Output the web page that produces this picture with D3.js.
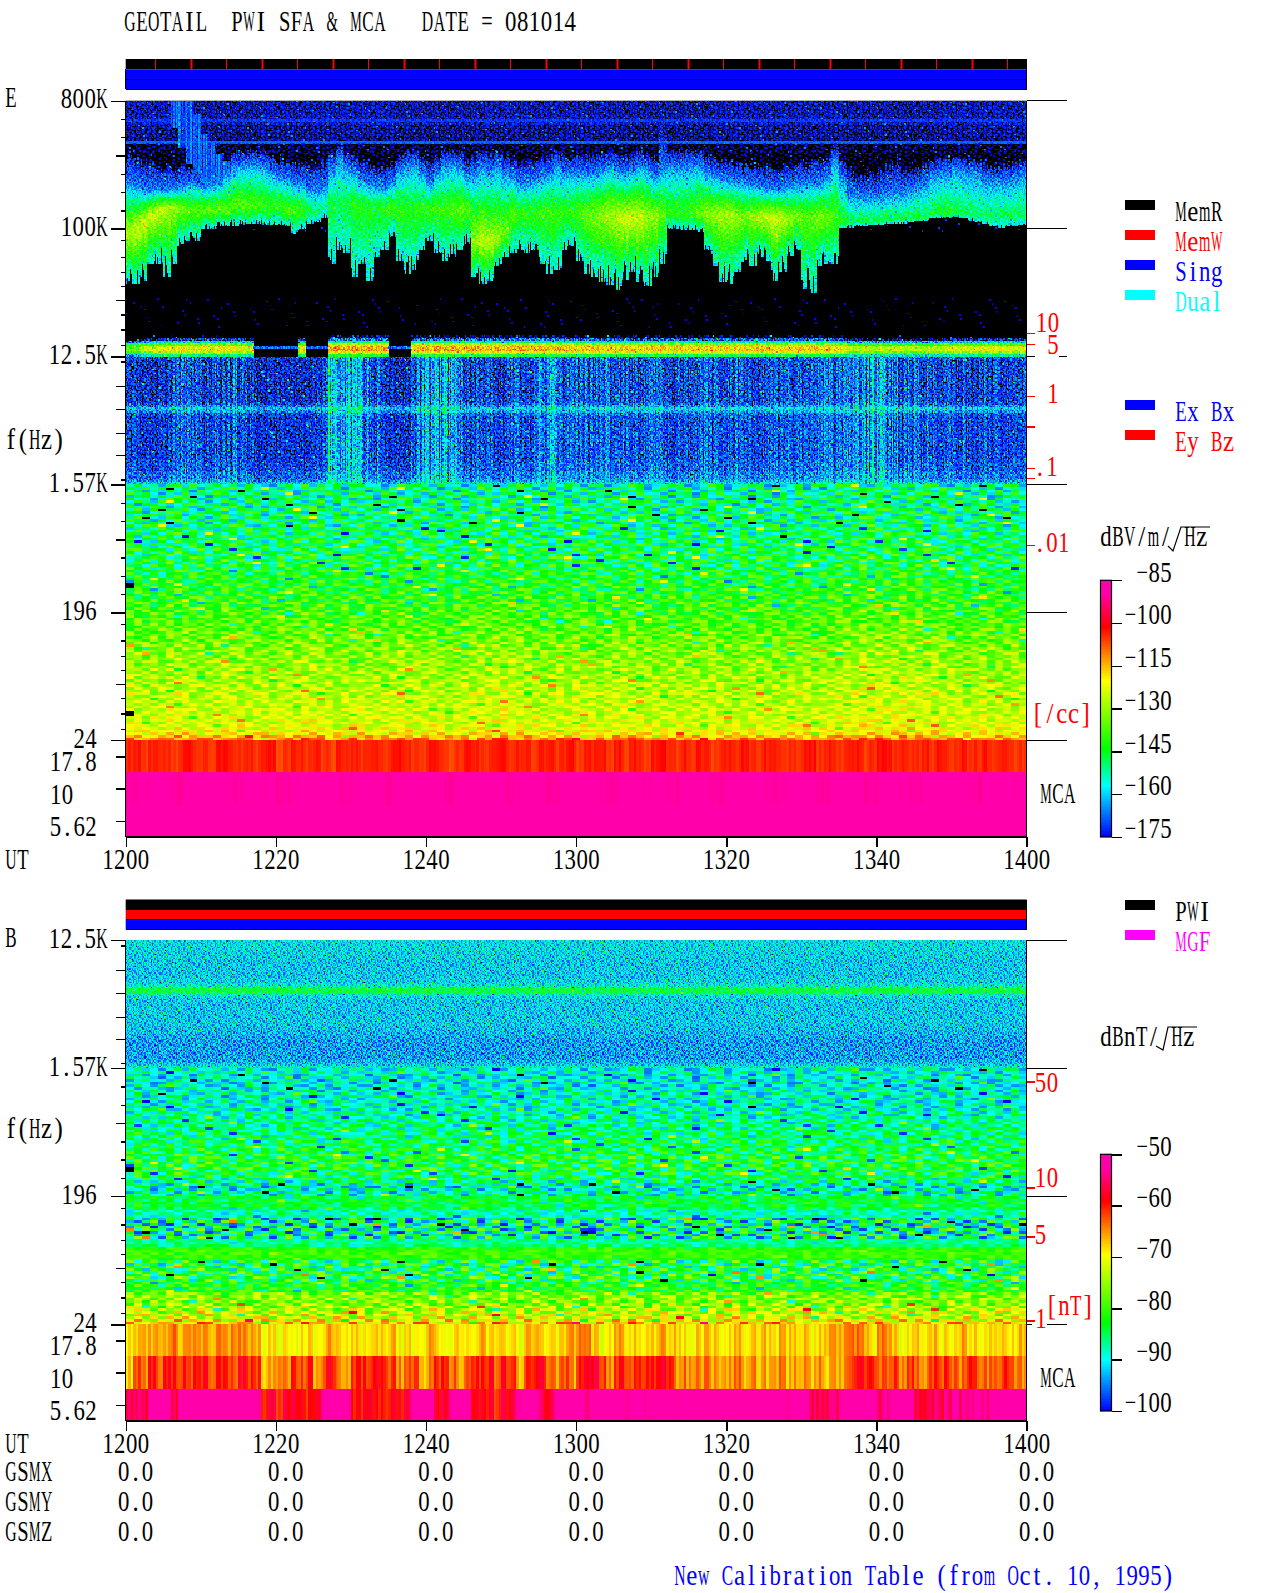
<!DOCTYPE html>
<html>
<head>
<title>GEOTAIL PWI SFA & MCA 081014</title>
<style>
  html, body { margin: 0; padding: 0; background: #fff; }
  svg { display: block; }
  text { font-family: "Liberation Serif", serif; font-size: 29px; }
  .cells rect { shape-rendering: crispEdges; }
  .axis line, .rule { stroke: #000; stroke-width: 1.4; shape-rendering: crispEdges; }
  .axis path { display: none; }
  .red line { stroke: #f00; }
</style>
<script src="https://d3js.org/d3.v7.min.js"></script>
</head>
<body>
<svg width="1280" height="1593"></svg>
<script>
// ---- values ----
const timeTicks = [0, 20, 40, 60, 80, 100, 120];
const timeLabels = ["1200", "1220", "1240", "1300", "1320", "1340", "1400"];
const gsmRows = ["GSMX", "GSMY", "GSMZ"];
const gsmValues = ["0.0", "0.0", "0.0", "0.0", "0.0", "0.0", "0.0"];
const majorE = [800000, 100000, 12500, 1562.5, 195.3, 24.41];
const majorELabels = ["800K", "100K", "12.5K", "1.57K", "196", "24"];
const mcaChannels = ["17.8", "10", "5.62"];
const cbarE = [-85, -100, -115, -130, -145, -160, -175];
const cbarB = [-50, -60, -70, -80, -90, -100];

// minor ticks, as fractions of each factor-of-8 band
const minorA = [0.143, 0.286, 0.429, 0.571, 0.714, 0.857];
const minorB = [0.09, 0.22, 0.34, 0.45, 0.56, 0.67, 0.79, 0.91];

// plasma line / density marks on the right
const densE = [10, 5, 1, 0.1, 0.01];
const densEMinor = [0.38, 0.075];
const densB = [50, 10, 5, 1];

// E field, upper band, one value per minute (kHz / dB)
const bottomKHz = [41,41,43,57,57,46,57,78,83,83,100,100,104,104,105,106,108,108,107,106,106,104,92,100,108,111,118,57,70,67,
  46,57,43,63,70,88,60,48,51,70,83,67,60,63,70,78,46,41,43,54,63,67,70,67,70,57,48,51,70,75,
  60,48,46,42,40,37,44,50,42,39,46,57,100,100,98,98,96,70,55,42,41,50,58,54,64,60,43,50,65,70,
  38,35,55,57,57,102,103,105,105,106,107,108,109,110,111,113,115,118,119,120,121,118,115,112,108,104,102,104,105,106];
const coreKHz = [208,197,187,187,187,187,187,197,208,203,197,203,208,238,272,278,287,287,272,251,232,226,208,208,187,187,187,258,320,272,
  245,219,208,197,187,208,258,272,287,245,208,245,280,287,272,232,245,272,258,272,245,232,208,208,219,232,245,272,245,245,
  245,245,245,258,272,258,245,258,278,260,232,260,272,272,272,275,280,250,232,225,219,212,208,203,197,192,187,192,197,203,
  208,208,208,225,300,219,167,167,167,167,167,172,176,176,187,197,208,232,245,245,272,258,245,245,219,213,213,213,225,238];
const topKHz = [320,300,290,280,270,265,265,270,270,265,265,270,280,300,340,345,350,350,340,320,300,295,280,280,265,265,300,340,377,340,
  310,290,280,270,265,280,320,345,350,315,290,320,345,350,340,310,320,345,330,345,320,300,290,285,300,310,325,345,320,315,
  320,320,320,330,345,330,320,330,350,330,310,490,345,345,345,350,350,320,300,295,290,285,280,275,270,265,260,265,270,280,
  285,290,290,320,370,300,250,230,235,240,240,270,290,260,250,265,280,300,310,310,320,310,300,300,280,275,275,280,285,300];
const ridgeKHz = [92,100,112,125,135,140,142,140,135,135,135,135,135,135,145,145,145,145,145,145,145,135,135,135,135,135,150,150,150,150,
  150,142,142,142,142,142,135,135,135,135,135,135,135,135,135,135,83,80,80,85,95,128,128,128,128,128,128,128,130,130,
  130,125,125,125,125,120,118,118,120,122,122,128,128,128,128,128,125,125,125,125,125,122,122,122,122,122,118,118,118,122,
  122,122,122,122,122,112,112,112,112,112,112,118,118,118,118,118,118,128,128,128,128,128,128,125,125,125,125,125,125,125];
const peakDb = [-128,-126,-125,-125,-126,-128,-130,-134,-136,-137,-136,-135,-135,-136,-137,-136,-137,-138,-140,-141,-140,-138,-138,-141,-146,-150,-152,-146,-148,-146,
  -142,-142,-144,-143,-141,-140,-141,-142,-142,-141,-139,-139,-140,-138,-136,-137,-130,-127,-128,-130,-134,-137,-140,-141,-140,-139,-139,-140,-141,-140,
  -138,-135,-133,-131,-129,-127,-125,-125,-126,-130,-131,-136,-140,-141,-140,-138,-134,-132,-130,-129,-129,-131,-133,-131,-128,-126,-125,-127,-131,-134,
  -136,-136,-133,-135,-138,-142,-146,-147,-147,-146,-146,-147,-147,-148,-147,-146,-147,-147,-144,-144,-146,-148,-148,-149,-149,-148,-148,-148,-148,-148];

// burst near 1207-1214
const burstMinute = [6, 7, 8, 9, 10, 11, 12, 13, 14];
const burstTopKHz = [800, 800, 800, 647, 468, 398, 338, 303, 272];
const burstBottomKHz = [520, 377, 287, 245, 208, 197, 197, 197, 208];

// 12.5K-800K background per row, top down (dB)
const hfRowE = [-176,-176,-176,-176,-176,-176,-175,-171,-175,-177,-177,-177,-177,-177,-178,-168,-181,-181,-181,-181,
  -182,-182,-182,-182,-182,-182,-182,-182,-182,-182,-182,-186,-186,-186,-186,-186,-186,-186,-186,-186,-186,-186,-186,-186,-186,-186,-186,-186,-186,
  -197,-197,-197,-197,-197,-197,-197,-197,-197,-197,-197,-197,-197,-197,-197,-197,-197,-197,-197,-197,-197,-197,-197,-197,-197,
  -190,-190,-190,-190,-190,-190,-190,-190,-190,-190,-190,-197,-197,-197,-197,-197,-197,-197,-197,-197,-197,-197];
const hfAmpE = [1.3,1.3,1.3,1.3,1.3,1.3,1.2,0.7,1.2,1.4,1.4,1.4,1.4,1.4,1.4,0.4];

// bright line just above 12.5K: peak per minute, and its shape over eight rows
const linePeak = [-135,-135,-125,-125,-122,-120,-120,-121,-119,-122,-118,-120,-119,-121,-120,-122,-125,-200,-200,-200,-200,-200,-200,-120,-200,-200,-200,-113,-112,-114,
  -111,-113,-112,-114,-113,-200,-200,-200,-116,-114,-115,-112,-114,-113,-115,-114,-112,-115,-114,-113,-116,-114,-112,-115,-113,-114,-115,-113,-116,-115,
  -117,-115,-116,-118,-116,-117,-115,-116,-118,-117,-116,-115,-117,-116,-118,-116,-117,-115,-118,-116,-117,-116,-118,-117,-115,-116,-117,-118,-116,-117,
  -116,-115,-117,-116,-118,-120,-126,-127,-125,-128,-126,-127,-125,-128,-126,-127,-128,-126,-127,-124,-123,-122,-124,-122,-123,-121,-123,-122,-124,-123];
const lineRows = [-70, -56, -36, -14, -2, 0, -8, -30];

// 1.57K-12.5K per row and streak strength per minute
const midRowE = [-175,-176.5,-176.5,-176.5,-176.5,-176.5,-176.5,-176.5,-176.5,-176.5,-176.5,-176.5,-176.5,-176.5,-176.5,-176.5,-176.5,-175,-170,-164,-168,-174,-176.5,-176.5,
  -176.5,-176.5,-176.5,-176.5,-176.5,-176.5,-176.5,-176.5,-176.5,-176.5,-176.5,-176.5,-176.5,-176.5,-176.5,-175,-175,-175,-175,-172,-172,-172,-169,-164];
const hissE = [4,4,3,2,3,3,6,8,7,6,5,7,6,6,8,6,5,2,1,2,2,2,2,2,2,3,5,16,12,14,16,15,12,8,3,2,2,2,8,10,10,14,15,11,8,5,5,4,5,3,5,10,7,5,6,10,12,8,
  6,7,8,9,7,7,8,6,7,6,5,6,7,6,6,7,6,5,6,7,6,5,6,7,6,5,5,6,6,5,7,6,5,6,7,8,7,7,9,12,14,14,13,11,10,9,9,8,8,6,3,5,5,7,4,4,6,5,4,6,4,4,5];

// 24-1.57K per row (dB) and residual strength
const lowRowE = [-153,-152,-152,-152,-152,-151,-151,-151,-151,-150,-150,-150,-150,-150,-150,-150,-149,-149,-149,-149,
  -149,-148,-148,-148,-147,-147,-147,-146,-146,-146,-146,-146,-145,-145,-144,-144,-144,-143,-143,-143,
  -142,-142,-141,-141,-140,-140,-139,-139,-139,-138,-138,-138,-137,-137,-137,-135,-135,-135,-134,-134,
  -133,-133,-132,-132,-132,-131,-131,-131,-131,-130,-130,-130,-129,-129,-129,-128,-128,-128,-127,-127,
  -127,-127,-127,-126,-126,-126,-126,-125,-125,-125,-124,-123,-122,-120,-116,-112];
const lowAmpE = [3,2.8,2.3,2,1.8,1.5];
const driftE = [1,0,-1,0,0,1,2,1,0,-1,0,1,2,1,1,0,0,-1,0,1,0,1,2,2,1,0,-1,0,1,1,0,-1,0,1,2,1,0,0,1,0,-1,0,0,1,2,1,2,3,2,1,
  1,0,-1,0,1,0,1,1,0,-1,0,1,2,1,0,0,-1,-1,0,1,0,-1,0,1,0,-1,-1,0,0,1,0,-1,-1,0,1,0,-1,0,0,1,2,2,3,3,2,1,2,3,3,2,1,2,1,0,0,-1,0,1,0,0,-1,0,0];
const deadE = [311, 38.8];

// MCA channels of the E panel
const mcaE17 = [-104,-103,-105,-104,-103,-104,-106,-103,-102,-105,-104,-105,-103,-102,-104,-105,-103,-105,-102,-103,-106,-105,-103,-104,-105,-103,-105,-106,-103,-104,
  -103,-105,-104,-103,-105,-103,-102,-104,-105,-105,-103,-103,-105,-106,-104,-103,-103,-105,-104,-102,-103,-105,-103,-104,-105,-103,-102,-105,-104,-103,
  -105,-103,-104,-102,-105,-103,-105,-103,-104,-105,-103,-102,-104,-105,-103,-105,-103,-104,-106,-103,-103,-105,-102,-104,-105,-103,-103,-105,-104,-105,
  -103,-102,-105,-103,-104,-105,-103,-103,-105,-104,-102,-103,-105,-103,-105,-104,-103,-105,-103,-104,-105,-103,-105,-104,-103,-105,-103,-104,-105,-105];
const mcaE10 = [-90,-89,-88,-90,-89,-88,-89,-90,-88,-89,-90,-89,-88,-88,-90,-89,-88,-90,-89,-88,-89,-90,-88,-89,-88,-90,-89,-88,-90,-89,
  -88,-89,-90,-88,-89,-89,-90,-88,-88,-90,-89,-88,-89,-90,-89,-88,-90,-88,-89,-90,-88,-89,-90,-89,-88,-89,-90,-88,-89,-89];
const mcaE5 = [-87];

// B panel
const hfRowB = [-91,-91,-91,-91,-91.5,-91.5,-91.5,-92,-92,-92,-92,-92,-92,-92,-91.5,-91.5,-90,-89,-84,-84,-89,-91,-92,-92,
  -92,-92,-92,-92,-92,-92,-92,-92,-92.5,-92.5,-93,-93,-93.5,-94,-94,-94,-94,-94,-94,-94,-94,-93,-92,-89];
const lowRowB = [-90,-89,-90,-90,-90,-90,-90,-90,-89,-89,-89,-89,-89,-89,-89,-89,-88,-88,-88,-87,-87,-87,-87,-86,-86,-86,
  -86,-85,-85,-85,-84,-84,-84,-83,-83,-83,-83,-83,-84,-84,-85,-85,-87,-88,-89,-89,-89,-88,-84,-84,-84,-84,-85,
  -88,-88,-88,-88,-87,-88,-88,-87,-88,-87,-87,-87,-87,-86,-81,-80,-80,-80,-81,-84,-84,-84,-84,-83,-83,-83,-83,-83,-82,-82,-82,
  -77,-76,-76,-77,-76,-75,-74,-73,-73,-72,-70,-68];
const lowAmpB = [1.2,1.2,1.2,1.3,1.5,1.5,0.8,2.4,0.5,1.9,1.2,1.5,1.6];
const driftB = [0,1,0,0,-1,0,1,0,0,1,1,0,-1,0,0,1,0,-1,0,1,0,0,1,0,-1,0,0,1,0,0,-1,0,1,0,0,-1,0,1,1,0,0,-1,0,1,0,0,1,0,-1,0,
  0,1,0,-1,0,1,0,0,-1,0,1,0,0,1,0,-1,0,0,1,0,0,-1,0,1,0,0,1,0,-1,0,0,1,0,-1,0,1,0,0,-1,0,1,0,0,1,0,-1,0,0,1,0,0,-1,0,1,0,0,-1,0,1,0,0,1,0];
const deadB = [311];

const mcaB17 = [-69,-67,-66,-67,-65,-66,-64,-66,-65,-65,-65,-66,-65,-65,-64,-65,-65,-66,-69,-69,-70,-69,-70,-69,-68,-70,-68,-66,-68,-69,
  -67,-70,-69,-67,-68,-66,-70,-68,-70,-69,-66,-68,-70,-69,-67,-70,-69,-66,-68,-67,-69,-68,-70,-67,-66,-68,-67,-69,-68,-66,
  -63,-64,-68,-70,-68,-66,-67,-68,-69,-67,-68,-66,-68,-67,-69,-70,-68,-67,-68,-69,-68,-67,-69,-67,-68,-67,-68,-66,-67,-68,
  -67,-69,-68,-66,-65,-66,-63,-64,-65,-69,-64,-66,-68,-70,-69,-67,-69,-67,-70,-68,-69,-66,-69,-68,-70,-68,-67,-69,-68,-67];
const mcaB10 = [-68,-62,-64,-60,-62,-59,-61,-60,-62,-60,-59,-62,-61,-60,-62,-59,-60,-61,-66,-67,-63,-65,-60,-63,-60,-66,-62,-59,-65,-66,
  -60,-61,-62,-58,-60,-61,-65,-63,-62,-66,-65,-61,-60,-63,-65,-64,-60,-61,-59,-62,-60,-61,-66,-62,-59,-58,-62,-65,-63,-66,
  -59,-58,-58,-60,-64,-61,-60,-62,-61,-59,-60,-59,-60,-65,-64,-65,-65,-64,-66,-65,-65,-64,-66,-64,-67,-66,-65,-64,-66,-66,
  -65,-66,-65,-67,-65,-66,-62,-59,-59,-60,-63,-64,-62,-64,-62,-63,-65,-61,-63,-60,-63,-64,-60,-62,-64,-63,-62,-61,-63,-65];
const mcaB5 = [-56,-55,-56,-50,-50,-50,-57,-50,-50,-50,-50,-50,-50,-50,-50,-50,-50,-51,-59,-58,-60,-58,-57,-59,-60,-58,-51,-50,-50,-50,
  -59,-60,-58,-59,-60,-58,-59,-57,-51,-50,-50,-58,-57,-51,-50,-50,-58,-59,-58,-60,-58,-57,-51,-50,-50,-56,-56,-51,-50,-50,
  -50,-54,-50,-50,-50,-50,-51,-50,-50,-51,-50,-50,-50,-51,-50,-50,-50,-51,-50,-50,-50,-51,-50,-50,-51,-50,-50,-51,-51,-50,
  -50,-55,-56,-55,-54,-50,-51,-50,-50,-50,-55,-54,-50,-50,-51,-56,-57,-56,-57,-54,-51,-54,-54,-51,-54,-50,-51,-50,-50,-51];

// Speckle tile. The cell-by-cell grain of the original cannot be read, so this
// hand-typed patch repeats over the profiles above: it is texture, not measurements.
// x = a deep drop-out, r = a bright spot
const speckle = [
  "47351682945736184205739164827",
  "62948x37516289473r51628493705",
  "38152746093851x62749301856274",
  "95730418265973648152r07349618",
  "16847295x30618472956381402759",
  "73402968517340285x16974263850",
  "28519r63740285196374820591736",
  "50763128946507319284x65172039",
  "84296035172849604157328906451",
  "3917x5482063917548206r3975184",
  "67024981357602498135760x24819",
  "12685370492681537049281653704",
  "49x31862750493186275049r31862",
  "85607293418560729341856072934",
  "26173x49580261734958026173495",
  "7398r105264739810526x73981052",
  "04529678316045296783160452967"
];

// ---- scales ----
const svg = d3.select("svg");
const left = 125.7, right = 1026.7;
const x = d3.scaleLinear().domain([0, 120]).range([left, right]);
const yE = d3.scaleLog().domain([800000, 24.41]).range([100.7, 740.3]);
const yB = d3.scaleLog().domain([12500, 24.41]).range([940.3, 1324.3]);
const mcaBandE = d3.scaleBand().domain(mcaChannels).range([740.3, 836.8]);
const mcaBandB = d3.scaleBand().domain(mcaChannels).range([1324.3, 1420.8]);
const ramp = d3.scaleLinear()
  .domain([0, 0.2, 0.345, 0.61, 0.82, 0.95, 1])
  .range(["#0000ff", "#00ffff", "#00ff00", "#ffff00", "#ff0000", "#ff00aa", "#ff00aa"])
  .clamp(true);
const tE = d3.scaleLinear().domain([-175, -85]).range([0, 1]);
const tB = d3.scaleLinear().domain([-100, -50]).range([0, 1]);
const colorE = v => v < -176 ? "#000" : ramp(tE(v));
const colorB = v => v < -101 ? "#000" : ramp(tB(v));

function grain(r, c) {
  const row = speckle[(r + 5 * Math.floor(c / 29)) % 17];
  const ch = row[(c + 7 * Math.floor(r / 17)) % 29];
  return ch === "x" ? -5 : ch === "r" ? 14 : +ch;
}
const clampGrain = d => Math.max(0, Math.min(9, d));
const lg = f => Math.log(f) / Math.log(8);

// ---- cells ----
function addCells(list, rows, cols, value, color) {
  for (const r of rows.domain()) {
    for (const c of cols.domain()) {
      const v = value(r, c);
      if (v === null) continue;
      const fill = color(v);
      if (fill === "#000") continue;
      list.push({ x: cols(c), y: rows(r), w: cols.bandwidth() + 0.4, h: rows.bandwidth() + 0.4, fill });
    }
  }
}

function upperE(fr, fc, f) {
  const r = Math.floor(fr / 2);
  const m = Math.floor(fc / 6);
  const d = grain(fr, fc);
  if (r >= 88 && r <= 95) {
    const p = linePeak[m];
    if (p < -190) return r === 92 ? -168 + (d - 4.5) * 1.5 : null;
    const off = lineRows[r - 88];
    return p + off + (d - 4.5) * (1.8 - off * 0.02);
  }
  let v = hfRowE[r] + (d - 4.5) * (r < hfAmpE.length ? hfAmpE[r] : 1.6);
  const b = burstMinute.indexOf(m);
  if (b >= 0 && f < burstTopKHz[b] && f > burstBottomKHz[b]) {
    v = Math.max(v, -169 + (clampGrain(grain(3, fc)) - 4.5) * 1.1 + (d - 4.5) * 0.8);
  }
  const l = lg(f);
  const rid = lg(ridgeKHz[m]), core = lg(coreKHz[m]);
  const lBot = rid - (rid - lg(bottomKHz[m])) * Math.min(1, 0.7 + 0.06 * clampGrain(grain(5, fc)));
  const lTop = core + (lg(topKHz[m]) - core) * (0.8 + 0.05 * clampGrain(grain(11, fc)));
  const rest = (d - 4.5) * 1.5;
  let e = null;
  if (l <= lTop && l > core) e = -166 - 9 * (l - core) / (lTop - core);
  else if (l <= core && l >= rid) e = peakDb[m] + (-166 - peakDb[m]) * Math.pow((l - rid) / (core - rid), 1.15);
  else if (l < rid && l >= lBot) e = peakDb[m] + (-158 - peakDb[m]) * Math.pow((rid - l) / (rid - lBot), 1.2);
  if (e !== null) v = Math.max(v, e + rest);
  return v;
}

const cellsE = [], cellsB = [];
const hiCols = d3.scaleBand().domain(d3.range(720)).range([left, right]);
const lowCols = d => d3.scaleBand().domain(d3.range(d.length)).range([left, right]);

// E: 800K down to 12.5K
const rowsE1 = d3.scaleBand().domain(d3.range(192)).range([yE(800000), yE(12500)]);
addCells(cellsE, rowsE1, hiCols, (r, c) => upperE(r, c, yE.invert(rowsE1(r) + rowsE1.bandwidth() / 2) / 1000), colorE);

// E: 12.5K down to 1.57K
const rowsE2 = d3.scaleBand().domain(d3.range(96)).range([yE(12500), yE(1562.5)]);
addCells(cellsE, rowsE2, hiCols, (r, c) => {
  const m = Math.floor(c / 6);
  return midRowE[Math.floor(r / 2)] + hissE[m] * (0.1 + 0.18 * clampGrain(grain(m, c))) + (grain(r, c) - 4.5) * 2;
}, colorE);

// E: 1.57K down to 24
const rowsE3 = d3.scaleBand().domain(d3.range(96)).range([yE(1562.5), yE(24.41)]);
const colsLowE = lowCols(driftE);
addCells(cellsE, rowsE3, colsLowE, (r, c) => {
  if (c === 0 && deadE.some(f => Math.abs(rowsE3(r) - yE(f)) < 2)) return -200;
  return lowRowE[r] + driftE[c] + (grain(r, c) - 4.5) * lowAmpE[Math.floor(r / 16)];
}, colorE);

// B: 12.5K down to 1.57K
const rowsB1 = d3.scaleBand().domain(d3.range(96)).range([yB(12500), yB(1562.5)]);
addCells(cellsB, rowsB1, hiCols, (r, c) => {
  const fr = Math.floor(r / 2);
  return hfRowB[fr] + (grain(r, c) - 4.5) * (fr === 18 || fr === 19 ? 0.9 : 1.2);
}, colorB);

// B: 1.57K down to 24
const rowsB2 = d3.scaleBand().domain(d3.range(96)).range([yB(1562.5), yB(24.41)]);
const colsLowB = lowCols(driftB);
addCells(cellsB, rowsB2, colsLowB, (r, c) => {
  if (c === 0 && deadB.some(f => Math.abs(rowsB2(r) - yB(f)) < 2)) return -200;
  return lowRowB[r] + driftB[c] + (grain(r, c) - 4.5) * lowAmpB[Math.floor(r / 8)];
}, colorB);

// MCA strips, one value per minute with the fine stripes from the speckle tile
function addStrip(list, band, channel, values, color, amp) {
  const cols = d3.scaleBand().domain(d3.range(360)).range([left, right]);
  cols.domain().forEach(c => {
    const v = values[Math.floor(c * values.length / 360)] + (clampGrain(grain(2, c)) - 4.5) * amp;
    list.push({ x: cols(c), y: band(channel), w: cols.bandwidth() + 0.4, h: band.bandwidth() + 0.4, fill: color(v) });
  });
}
addStrip(cellsE, mcaBandE, "17.8", mcaE17, colorE, 0.3);
addStrip(cellsE, mcaBandE, "10", mcaE10, colorE, 0.2);
addStrip(cellsE, mcaBandE, "5.62", mcaE5, colorE, 0);
addStrip(cellsB, mcaBandB, "17.8", mcaB17, colorB, 0.45);
addStrip(cellsB, mcaBandB, "10", mcaB10, colorB, 0.55);
addStrip(cellsB, mcaBandB, "5.62", mcaB5, colorB, 0.5);

// ---- draw plots ----
function rect(g, a, b, c, d, fill) {
  return g.append("rect").attr("x", a).attr("y", b).attr("width", c).attr("height", d).attr("fill", fill);
}
rect(svg, left, 100.7, right - left, 736.1, "#000");
rect(svg, left, 940.3, right - left, 480.5, "#000");

function drawCells(cls, list) {
  svg.append("g").attr("class", "cells " + cls).selectAll("rect").data(list).join("rect")
    .attr("x", d => d.x).attr("y", d => d.y).attr("width", d => d.w).attr("height", d => d.h).attr("fill", d => d.fill);
}
drawCells("e", cellsE);
drawCells("b", cellsB);

// ---- axes ----
function subTicks(top, fracs) {
  return fracs.map(f => top * Math.pow(8, -f));
}
function leftAxis(scale, values, size) {
  svg.append("g").attr("class", "axis").attr("transform", `translate(${left},0)`)
    .call(d3.axisLeft(scale).tickValues(values).tickSize(size).tickFormat(""));
}
function timeAxis(yPos) {
  svg.append("g").attr("class", "axis").attr("transform", `translate(0,${yPos})`)
    .call(d3.axisBottom(x).tickValues(timeTicks).tickSize(10).tickFormat(""));
}
const shortE = [].concat(subTicks(800000, minorA.filter(f => f !== 0.429)), subTicks(100000, minorB.filter(f => f !== 0.56)),
  subTicks(12500, [0.04, 0.96]), subTicks(1562.5, minorA.filter(f => f !== 0.429)), subTicks(195.3, minorB.filter(f => f !== 0.56)));
const longE = [].concat(subTicks(800000, [0.429]), subTicks(100000, [0.56]), subTicks(12500, [0.23, 0.41, 0.6, 0.77]),
  subTicks(1562.5, [0.429]), subTicks(195.3, [0.56]));
leftAxis(yE, shortE, 5);
leftAxis(yE, longE, 10);
leftAxis(yE, majorE, 15);
const shortB = [].concat(subTicks(12500, [0.04, 0.96]), subTicks(1562.5, minorA.filter(f => f !== 0.429)), subTicks(195.3, minorB.filter(f => f !== 0.56)));
const longB = [].concat(subTicks(12500, [0.23, 0.41, 0.6, 0.77]), subTicks(1562.5, [0.429]), subTicks(195.3, [0.56]));
leftAxis(yB, shortB, 5);
leftAxis(yB, longB, 10);
leftAxis(yB, majorE.slice(2), 15);
[mcaBandE, mcaBandB].forEach(band => {
  svg.append("g").attr("class", "axis").attr("transform", `translate(${left},0)`)
    .call(d3.axisLeft(d3.scalePoint().domain(mcaChannels).range([band("17.8") + band.bandwidth() / 2, band("5.62") + band.bandwidth() / 2]))
      .tickSize(10).tickFormat(""));
});
timeAxis(836.8);
timeAxis(1420.8);

function rule(x1, y1, x2, y2) {
  svg.append("line").attr("class", "rule").attr("x1", x1).attr("y1", y1).attr("x2", x2).attr("y2", y2);
}
// frames
rule(left, 100.7, left, 836.8);
rule(left, 836.8, right, 836.8);
rule(right, 100.7, right, 836.8);
rule(left, 940.3, left, 1420.8);
rule(left, 1420.8, right, 1420.8);
rule(right, 940.3, right, 1420.8);
// rules that run out on the right
[yE(800000), yE(100000), yE(1562.5), yE(195.3), yE(24.41), yB(12500), yB(1562.5), yB(195.3)].forEach(v => rule(right, v, 1067, v));
rule(right, yE(12500), 1035, yE(12500));
rule(1059, yE(12500), 1067, yE(12500));
rule(right, yB(24.41), 1032, yB(24.41));
rule(1047, yB(24.41), 1067, yB(24.41));

// density ticks
const densScaleE = d3.scaleLog().domain([10, 5, 1, 0.1, 0.01]).range([332.7, 344, 396.3, 468.3, 545]);
const densScaleB = d3.scaleLog().domain([50, 10, 5, 1]).range([1081.7, 1187.3, 1236.7, 1320.7]);
function densAxis(scale, values) {
  svg.append("g").attr("class", "axis red").attr("transform", `translate(${right},0)`)
    .call(d3.axisRight(scale).tickValues(values).tickSize(8).tickFormat(""));
}
densAxis(densScaleE, densE.concat(densEMinor));
densAxis(densScaleB, densB);

// ---- status bars ----
const redMarks = d3.range(25);
rect(svg, left, 59, right - left, 10.4, "#000");
svg.append("g").selectAll("rect").data(redMarks).join("rect")
  .attr("x", d => 155 + d * 35.5).attr("y", 59).attr("height", 10)
  .attr("width", d => d % 2 ? 2 : 1).attr("fill", "#f00");
rect(svg, left, 69.4, right - left, 20, "#00f");
rule(left, 79.4, right, 79.4);
rule(left, 89.4, right, 89.4);
rule(right, 59, right, 89.4);
rule(left, 69.4, left, 89.4);

rect(svg, left, 899.5, right - left, 10, "#000");
rect(svg, left, 909.5, right - left, 10, "#f00");
rect(svg, left, 919.5, right - left, 10, "#00f");
rule(left, 909.5, right, 909.5);
rule(left, 919.5, right, 919.5);
rule(left, 929.7, right, 929.7);
rule(right, 899.5, right, 929.7);

// ---- text ----
const cw = 11.9;
const measure = document.createElement("canvas").getContext("2d");
measure.font = '29px "Liberation Serif"';
// every character sits in its own fixed cell, as on the original bitmap font;
// wide glyphs are squeezed to the cell with a horizontal scale
function put(str, px, base, color) {
  const g = svg.append("g").attr("aria-label", str);
  Array.from(str).forEach((ch, i) => {
    if (ch === " ") return;
    const natural = measure.measureText(ch).width;
    const w = Math.min(natural * 0.86, cw - 0.5);
    g.append("text")
      .attr("transform", `translate(${px + i * cw + (cw - w) / 2},${base}) scale(${w / natural},1)`)
      .attr("fill", color || "#000").text(ch);
  });
}

// ---- colour bars ----
function colorBar(y0, y1, ticks, tScale) {
  const scale = d3.scaleLinear().domain(d3.extent(ticks)).range([y1, y0]);
  const n = 128;
  const steps = d3.range(n);
  const band = d3.scaleBand().domain(steps).range([y1, y0]);
  svg.append("g").selectAll("rect").data(steps).join("rect")
    .attr("x", 1100.5).attr("width", 11).attr("y", d => band(d) - 0.3).attr("height", Math.abs(band.bandwidth()) + 0.6)
    .attr("shape-rendering", "crispEdges")
    .attr("fill", d => ramp(tScale(scale.domain()[0] + (d + 0.5) / n * (scale.domain()[1] - scale.domain()[0]))));
  svg.append("rect").attr("x", 1100.5).attr("y", y0).attr("width", 11).attr("height", y1 - y0)
    .attr("fill", "none").attr("stroke", "#000").attr("stroke-width", 1.2);
  svg.append("g").attr("class", "axis").attr("transform", "translate(1111.5,0)")
    .call(d3.axisRight(scale).tickValues(ticks).tickSize(10).tickFormat(""));
  ticks.forEach(t => {
    const s = "\u2212" + Math.abs(t);
    put(s, 1172 - s.length * cw, scale(t) + 1.2);
  });
}
colorBar(580.3, 837, cbarE, tE);
colorBar(1154.3, 1411, cbarB, tB);

put("GEOTAIL  PWI SFA & MCA   DATE = 081014", 124, 31);
put("E", 5, 107);
put("B", 5, 947);

const labelRight = [108, 108, 108, 108, 97, 97];
majorE.forEach((f, i) => put(majorELabels[i], labelRight[i] - majorELabels[i].length * cw, yE(f) + 7.5));
majorE.slice(2).forEach((f, i) => put(majorELabels[i + 2], labelRight[i + 2] - majorELabels[i + 2].length * cw, yB(f) + 7.5));

const mcaRight = [97, 73.5, 97];
mcaChannels.forEach((ch, i) => {
  put(ch, mcaRight[i] - ch.length * cw, mcaBandE(ch) + mcaBandE.bandwidth() / 2 + 15);
  put(ch, mcaRight[i] - ch.length * cw, mcaBandB(ch) + mcaBandB.bandwidth() / 2 + 15);
});
put("f(Hz)", 5, 449);
put("f(Hz)", 5, 1138);
put("MCA", 1040, 802.7);
put("MCA", 1040, 1386.7);

[869.3, 1452.7].forEach(base => {
  put("UT", 5, base);
  timeTicks.forEach((t, i) => put(timeLabels[i], x(t) - 2 * cw, base));
});
gsmRows.forEach((name, r) => {
  const base = 1480.7 + r * 30;
  put(name, 5, base);
  timeTicks.forEach((t, i) => put(gsmValues[i], x(t) - 8, base));
});

// legends
function swatch(y0, color) { rect(svg, 1125, y0, 30, 10, color); }
[["MemR", "#000", 200], ["MemW", "#f00", 230], ["Sing", "#00f", 260], ["Dual", "#0ff", 290],
 ["Ex Bx", "#00f", 400], ["Ey Bz", "#f00", 430], ["PWI", "#000", 900], ["MGF", "#f0f", 930]].forEach(d => {
  swatch(d[2], d[1]);
  put(d[0], 1175, d[2] + 20.7, d[1]);
});

// density labels
[["10", 1035.5, 331.7], ["5", 1047, 354.3], ["1", 1047, 403], [".1", 1034, 475.7], [".01", 1034, 552.3], ["[/cc]", 1032, 722.7],
 ["50", 1034.5, 1091.7], ["10", 1034.5, 1186.7], ["5", 1034.5, 1244], ["1", 1035, 1328.3], ["[nT]", 1046, 1315]]
  .forEach(d => put(d[0], d[1], d[2], "#f00"));

// units, the root sign is drawn by hand
function radical(points) {
  svg.append("path").attr("d", d3.line()(points)).attr("fill", "none").attr("stroke", "#000").attr("stroke-width", 1.2);
}
put("dBV/m/", 1100, 546);
radical([[1168, 546], [1173, 551], [1181, 527], [1210, 527]]);
put("Hz", 1184, 546);
put("dBnT/", 1100, 1046);
radical([[1156, 1046], [1163, 1050], [1168, 1027], [1197, 1027]]);
put("Hz", 1171, 1046);

put("New Calibration Table (from Oct. 10, 1995)", 674, 1585, "#00f");
</script>
</body>
</html>
